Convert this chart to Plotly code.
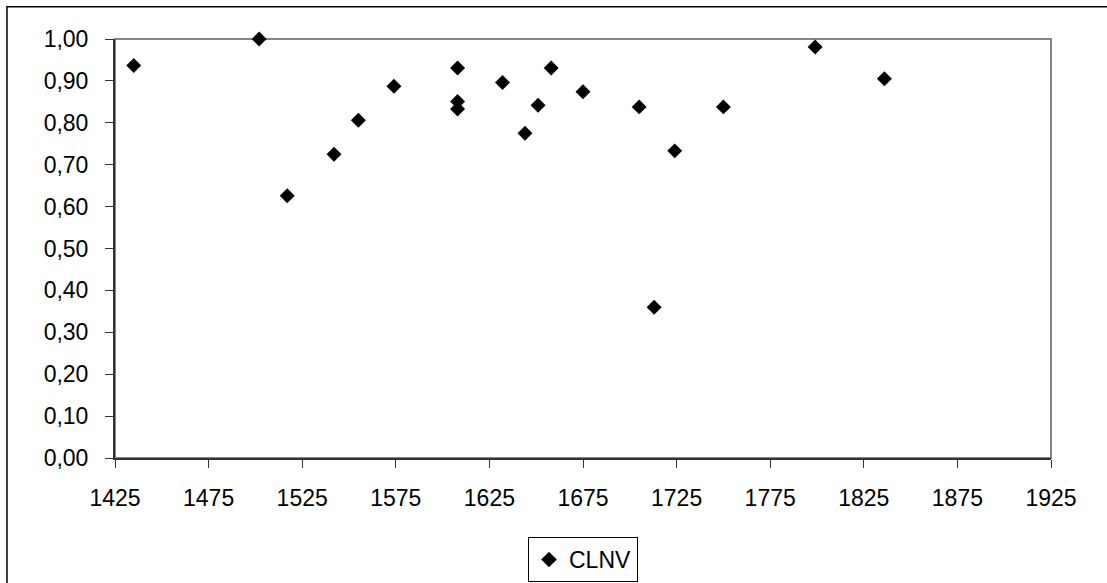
import plotly.graph_objects as go

series_name = "CLNV"
x_vals = [1435, 1502, 1517, 1542, 1555, 1574, 1608, 1608, 1608, 1632, 1644, 1651,
          1658, 1675, 1705, 1713, 1724, 1750, 1799, 1836]
y_vals = [0.937, 1.000, 0.626, 0.725, 0.806, 0.887, 0.931, 0.851, 0.833, 0.896, 0.775, 0.842,
          0.931, 0.874, 0.838, 0.360, 0.733, 0.838, 0.981, 0.905]

FONT = "Liberation Sans, Arial, sans-serif"

fig = go.Figure()
fig.add_trace(go.Scatter(
    x=x_vals, y=y_vals, mode="markers", name=series_name,
    marker=dict(symbol="diamond", size=11.5, color="black", line=dict(width=0)),
    cliponaxis=False, showlegend=True,
))

# plot-area border (grey), and outer chart border (black)
fig.add_shape(type="rect", xref="paper", yref="paper", x0=0, y0=0, x1=1, y1=1,
              line=dict(color="#858585", width=2), layer="below")
fig.add_shape(type="rect", xref="paper", yref="paper", x0=-0.1154, y0=-0.4, x1=1.1, y1=1.077,
              line=dict(color="black", width=1.5), layer="below")

fig.update_layout(
    width=1107, height=583,
    margin=dict(l=115, r=56, t=39, b=125, autoexpand=False),
    paper_bgcolor="white", plot_bgcolor="white",
    separators=", ",
    font=dict(family=FONT, size=23, color="black"),
    showlegend=True,
    legend=dict(x=0.5, xanchor="center", y=-0.1887, yanchor="top",
                bordercolor="black", borderwidth=1, bgcolor="white",
                font=dict(family=FONT, size=23, color="black"),
                itemsizing="constant"),
    xaxis=dict(range=[1425, 1925], tick0=1425, dtick=50, tickformat="d",
               showgrid=False, zeroline=False, showline=True, linecolor="#333333", linewidth=2,
               ticks="outside", ticklen=8, tickwidth=1, tickcolor="#333333",
               ticklabelstandoff=10, automargin=False,
               tickfont=dict(family=FONT, size=23, color="black"), fixedrange=True),
    yaxis=dict(range=[0, 1], tick0=0, dtick=0.1, tickformat=".2f",
               showgrid=False, zeroline=False, showline=True, linecolor="#333333", linewidth=2,
               ticks="outside", ticklen=8, tickwidth=1, tickcolor="#333333",
               ticklabelstandoff=12, automargin=False,
               tickfont=dict(family=FONT, size=23, color="black"), fixedrange=True),
)

fig.write_html("out.html")
